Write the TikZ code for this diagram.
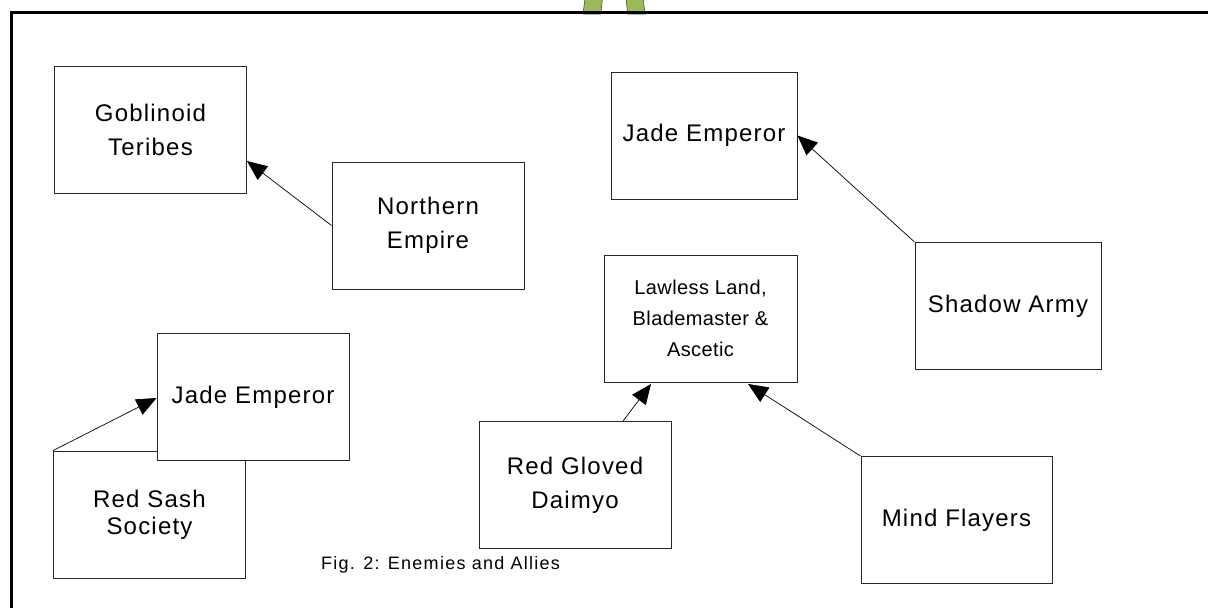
\documentclass[tikz,border=0pt]{standalone}
\usepackage{fontspec}
\setmainfont{Liberation Sans}[LetterSpace=5]
\usetikzlibrary{arrows.meta}
\definecolor{legGreen}{HTML}{9BBB59}
\tikzset{
  ent/.style={draw=black!85, line width=0.9pt, fill=white, inner sep=0pt,
    minimum width=192pt, minimum height=127pt, align=center,
    font=\fontsize{24}{34}\selectfont},
  rel/.style={draw=black, line width=0.7pt, -{Triangle[length=20pt,width=17pt]}},
  leg/.style={fill=legGreen, draw=black!70, line width=0.6pt}
}
\begin{document}
\begin{tikzpicture}[x=1pt,y=-1pt]
\useasboundingbox (0,0) rectangle (1208,608);
\clip (0,0) rectangle (1208,608);
% green legs behind the frame
\path[leg] (585.5,-5) -- (602.8,-5) -- (600.8,14) -- (583,14) -- cycle;
\path[leg] (625.8,-5) -- (642.5,-5) -- (645.2,14) -- (627.6,14) -- cycle;
% frame
\draw[line width=3.5pt, line cap=rect] (11.5,615) -- (11.5,12.5) -- (1215,12.5);
% boxes
\node[ent] (gob) at (150.5,129.5) {Goblinoid\\Teribes};
\node[ent] (ne) at (428,225.5) {Northern\\Empire};
\node[ent, minimum width=186pt] (je1) at (704,135.5) {Jade Emperor};
\node[ent, minimum width=186pt] (sa) at (1008,306) {Shadow Army};
\node[ent, minimum width=193pt, font=\fontsize{20}{31}\addfontfeature{LetterSpace=2}\selectfont] (ll) at (700.5,318.5) {Lawless Land,\\Blademaster \&\\Ascetic};
\node[ent] (rs) at (149.5,514.5) {Red Sash\\[-7pt]Society};
\node[ent] (je2) at (253,397) {Jade Emperor};
\node[ent] (rg) at (575,485) {Red Gloved\\Daimyo};
\node[ent, minimum width=191pt] (mf) at (956.5,520) {Mind Flayers};
% caption
\node[anchor=west, inner sep=0pt, font=\fontsize{18}{20}\addfontfeature{LetterSpace=7}\selectfont] (cap) at (321,565) {Fig. 2: Enemies and Allies};
% relations
\draw[rel] (ne.west) -- ([yshift=-31.5pt]gob.east);
\draw[rel] (sa.north west) -- (je1.east);
\draw[rel] (rs.north west) -- ([yshift=-1pt]je2.west);
\draw[rel] ([xshift=48pt]rg.north) -- ([xshift=-49.5pt, yshift=-1.5pt]ll.south);
\draw[rel] (mf.north west) -- ([xshift=47.5pt, yshift=-1.5pt]ll.south);
\end{tikzpicture}
\end{document}
